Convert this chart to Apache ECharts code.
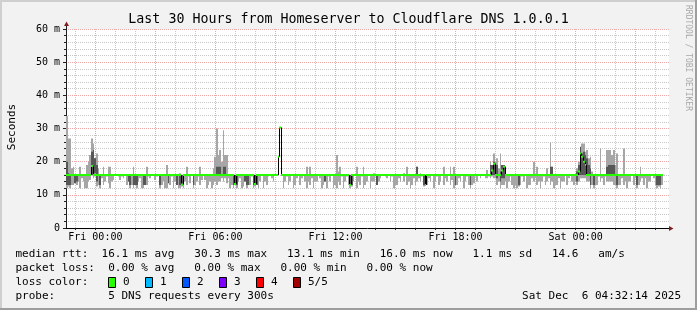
<!DOCTYPE html>
<html><head><meta charset="utf-8">
<script src="https://cdn.jsdelivr.net/npm/echarts@6/dist/echarts.min.js"></script>
<style>html,body{margin:0;padding:0;background:#f2f2f2}#c{width:697px;height:310px}</style>
</head><body><div id="c"></div>
<script>
const TITLE = 'Last 30 Hours from Homeserver to Cloudflare DNS 1.0.0.1';
const Y_NAME = 'Seconds';
const DAYS = ['Thu', 'Fri', 'Sat'];
const START_MIN = 22 * 60 + 32;   // Thu 22:32
const SPAN_MIN = 1808;            // minutes shown on the x axis
const SLOT_MIN = 5;               // minutes per probe step
const X_TICK_LABELS = ['Fri 00:00', 'Fri 06:00', 'Fri 12:00', 'Fri 18:00', 'Sat 00:00'];
const Y_MAX = 60, Y_STEP = 10;

// top of the smoke (ms), one value per 5-minute step
const SMOKE_HI = [
  33.8,27,27,18,18.5,16,16,16,18.5,16,16,16,19,20,22,27,25.5,21,22.5,18,
  16,16,18.5,16,16,18.5,18.5,16,16,16,16,16,16,16,16,16,16,16,16,16,
  18.5,16,16,16,16,16,16,16,18.5,16,16,16,16,16,16,16,16,16,16,16,
  19,16,16,16,16,16,16,16,16.5,16,16,16,18.5,16,16,16,16,16,16,16,
  18.5,16,16,16,16,16,16,16,18,21.5,30,22,23.5,20,29.5,22,22,16,16,16,
  16,16,16,16,16,16,16,16,16,16,16,16,16,16,16,16,16,16,16,16,
  16,16,16,16,16,16,null,null,null,null,16,16,16,16,16,16,16,16,16,16,
  16,16,16,16,18.5,16,18.5,16,16,16,16,16,16,16,16,16,16,16,16,16,
  16,16,22,17,18.5,16,16,16,16,16,16,16,16,16,18.5,16,16,16,18.5,16,
  16,16,16,16,16.5,16,16,16,16,16,16,16,16,16,16,16,16,16,16,16,
  16,16,16.5,16,18.5,16,16,16,16,16,18.5,16,16.5,16,16,16,16,16,16,16,
  16,16,16,16,16,16,18.5,16,16,16,18.5,16,18.5,16,16,16,16,16,16,16,
  16,16,16,16,16,16,16,16,16,16,16,16,17.5,16,20,18.5,22.5,20,21,18,
  22.5,19,19,17,16,16,16,16,16,16,16,16,16,16,16,16,16,16,16,16,
  20,16,18.5,16,16,16,16,16,18,16,25.8,18.5,16,16,16,16,16,16,16,16,
  16,16,16,16,16,16,18,20,24,25.5,25.5,23,23.5,21,21.5,17,16,16,16,16,
  24,16,16,16,23.5,23.5,23.5,22,23.5,19,22.5,16,16,16,24,16,16,16,16,16,
  16,16,16,16,18.5,16,16,16,16,16,16,16,16,16,16,16,16,16,null,null
];
// bottom of the smoke (ms)
const SMOKE_LO = [
  12,12.5,12,13,13,15.5,13,14,12,15,14,12,12,14,14.5,16,15,15.5,12.5,13,
  12,15,13,14,15.5,13.5,12,14,14.5,16,16,15.5,14.5,15.5,15,16,13,14,12,13,
  12,13,12,14,15,12,12,13,13,15.5,15,16,16,14.5,15.5,16,12,13,14,12,
  12,14,13,15.5,12,14,13,12,12,12.5,12,14,13,15.5,13.5,16,12,13,14,15.5,
  13,14.5,16,14.5,12,13,14,12,13,14,13,14,14,15,14,15,13.5,15,12,13,
  12,13,12,14,15,12,12.5,14,12,13,13,15.5,12,12.5,13,12,14,16,12,14,
  13,15.5,16,15,14,16,null,null,null,null,12,14,15.5,13,14,16,12,13,15,16,
  13,15,16,14,12,14,13,15,12,14,14,16,15,12,13,14,12,15.5,14,16,
  12,13,12,14,13,15.5,12,14,15.5,13,12,12.5,14,16,12,14,13,15.5,12,13,
  14,16,12,14,14,15.5,13,14,15,16,16,15.5,15,16,14,15.5,12,13,13,15,
  14,16,14,15.5,13,14,12,13,15,13,14,15,14,15.5,12.5,13,13,15,14,16,
  12,14,15.5,13,14,16,13,15,14,16,13,14.5,12,13,13,15,14,16,12,14,
  15.5,13,12,13,13.5,15.5,14,16,15,16,16,15,15,15.5,15,15.5,15,15,13,14,
  12,13,13,14,12,14,15.5,13,12,13,12,12.5,13,15.5,14,16,12,13,13,15,
  14,15,13,14,12,14,15.5,13,14,15,13,14,12,13,13,15,12,14,14,16,
  13,15,16,14,13,14,13,14,15,15,15,15,14,14,12,13,12,13,13,15.5,
  14,15,13,15.5,14,14,14,14,13,13,12,13,13,15,13,14,12,14,14,16,
  13,15,12,13,14,15,13,15,12,14,14,16,15,13,12,12.5,12,13,null,null
];
// darker core of the smoke: step index, bottom, top
const DARK_SLOT = [0,1,2,5,6,15,16,17,18,20,37,38,40,41,42,46,47,56,61,66,68,69,76,90,91,92,94,95,100,101,102,107,108,109,112,113,114,155,170,171,186,210,214,215,233,242,254,255,256,257,258,260,261,262,271,290,291,306,307,308,309,310,311,312,313,314,316,324,325,326,327,328,330,342,354,355,356];
const DARK_LO   = [13,13,13,13.5,14,16,16.5,16.5,14,13,14,13,13,13,13,13,13,13,13.5,13,13,13,13,16,16,16,16,16,13,13,13,14,13,13,13,13,13,14,13,13,13,16,13,13,13,13,16,16,16,16,15,14,15,15,13,16,16,14,16,16,16,16,16,16,16,13,13,16,16,16,16,16,13,13,13,13,13];
const DARK_HI   = [20,16.5,16,16,16,23,23.5,21,19,16,16,16,16,16,16,16,16,16,16,16,16,16,16,18.5,18.5,18.5,18.5,18.5,16,16,16,16,16,16,16,16,16,16,16,16,16,18.5,16,16,16,16,19,19,20,19,19,17,19,19,16,18.5,18.5,17,19,24.5,22.5,23,22,21,19,18,16,18.5,19,19,19,19,16,16,16,16,16];
// median rtt (ms) per 5-minute step
const MEDIAN = [
  16,16,16,16,16,16,16,16,16,16,16,16,16,16,16,18.7,16,16,16,16,
  16,16,16,16,16,16,16,16,16,16,16,16,16,16,16,16,16,16,16,16,
  16,16,16,16,16,16,16,16,16,16,16,16,16,16,16,16,16,16,16,16,
  16,16,16,16,16,16,16,16,16,13.1,16,16,16,16,16,16,16,16,16,16,
  16,16,16,16,16,16,16,16,16,16,16,16,16,16,16,16,16,16,16,16,
  16,13.3,16,16,16,16,16,16,16,16,16,16,16,13.3,16,16,16,16,16,16,
  16,16,16,16,16,16,16,21.5,30.3,16,16,16,16,16,16,16,16,16,16,16,
  16,16,16,16,16,16,16,16,16,16,16,16,16,16,16,16,16,16,16,16,
  16,16,16,16,16,16,16,16,16,16,13,16,16,16,16,16,16,16,16,16,
  16,16,16,16,16,16,16,16,16,16,16,16,16,16,16,16,16,16,16,16,
  16,16,16,16,16,16,16,16,16,16,16,16,16,16,16,13,16,16,16,16,
  16,16,16,16,16,16,16,16,16,16,16,16,16,16,16,16,16,16,16,16,
  16,16,16,16,16,16,16,16,16,16,16,16,16,16,16,17.3,19.4,16,16,16,
  16,17.3,18.5,16,16,16,16,16,16,16,16,16,16,16,16,16,16,16,16,16,
  16,16,16,16,16,16,16,16,16,16,16,16,16,16,16,16,16,16,16,16,
  16,16,16,16,16,16,16,17,22.5,21.5,20,19,16,16,16,16,16,16,16,16,
  16,16,16,16,16,16,16,16,16,16,16,16,16,16,16,16,16,16,16,16,
  16,16,16,16,16,16,16,16,16,16,16,16,16,16,16,16,16,16,null,null
];
const LEGEND_LINES = [
  'median rtt:  16.1 ms avg   30.3 ms max   13.1 ms min   16.0 ms now   1.1 ms sd   14.6   am/s',
  'packet loss:  0.00 % avg   0.00 % max   0.00 % min   0.00 % now',
  'loss color:',
  'probe:        5 DNS requests every 300s'
];
const LOSS_LABELS = ['0', '1', '2', '3', '4', '5/5'];
const LOSS_COLORS = ['#26ff00', '#00b8ff', '#0059ff', '#7e00ff', '#ff0000', '#a10000'];
const DATE_TEXT = 'Sat Dec  6 04:32:14 2025';
const SIDE_TEXT = 'RRDTOOL / TOBI OETIKER';

const MONO = '"DejaVu Sans Mono", monospace';
const pad = n => (n < 10 ? '0' : '') + n;
const CATEGORIES = [];
for (let m = 0; m <= SPAN_MIN; m++) {
  const t = START_MIN + m;
  CATEGORIES.push(DAYS[Math.floor(t / 1440)] + ' ' + pad(Math.floor((t % 1440) / 60)) + ':' + pad(t % 60));
}
const isHour = v => v.endsWith(':00');
const hourOf = v => parseInt(v.slice(4, 6), 10);

const smokeData = [];
SMOKE_HI.forEach((hi, i) => { if (hi != null && hi > SMOKE_LO[i]) smokeData.push([i * SLOT_MIN, SMOKE_LO[i], hi]); });
const darkData = DARK_SLOT.map((s, k) => [s * SLOT_MIN, DARK_LO[k], DARK_HI[k]]);
const medData = [];
MEDIAN.forEach((m, i) => {
  if (m == null) return;
  const p = i > 0 && MEDIAN[i - 1] != null ? MEDIAN[i - 1] : m;
  medData.push([i * SLOT_MIN, m, p]);
});

function rectRender(fill) {
  return function (params, api) {
    const s = api.value(0), lo = api.value(1), hi = api.value(2);
    const a = api.coord([s, lo]), b = api.coord([s + SLOT_MIN, hi]);
    const x0 = Math.round(a[0]), x1 = Math.max(Math.round(b[0]), x0 + 1);
    return { type: 'rect', shape: { x: x0, y: b[1], width: x1 - x0, height: a[1] - b[1] }, style: { fill: fill } };
  };
}

const GRID_MINOR = 'rgba(143,143,143,0.5)';
const GRID_MAJOR = 'rgba(222,79,79,0.5)';

const chart = echarts.init(document.getElementById('c'), null, { renderer: 'canvas' });
chart.setOption({
  animation: false,
  backgroundColor: '#f2f2f2',
  grid: { left: 66, right: 28, top: 29, bottom: 82, show: true, backgroundColor: '#ffffff', borderWidth: 0 },
  xAxis: [{
    type: 'category', data: CATEGORIES, boundaryGap: false, position: 'bottom',
    axisLine: { show: true, lineStyle: { color: '#000', width: 1 } },
    axisTick: { show: true, length: 2, interval: (i, v) => isHour(v), lineStyle: { color: '#1f1f1f' } },
    axisLabel: { interval: (i, v) => X_TICK_LABELS.includes(v), fontFamily: MONO, fontSize: 10, color: '#000', margin: 4 },
    splitLine: { show: true, interval: (i, v) => isHour(v) && hourOf(v) % 3 !== 0, lineStyle: { color: GRID_MINOR, type: [1, 1], width: 1 } }
  }, {
    type: 'category', data: CATEGORIES, boundaryGap: false, position: 'bottom',
    axisLine: { show: false }, axisTick: { show: false }, axisLabel: { show: false },
    splitLine: { show: true, interval: (i, v) => isHour(v) && hourOf(v) % 3 === 0, lineStyle: { color: GRID_MAJOR, type: [1, 1], width: 1 } }
  }],
  yAxis: {
    type: 'value', min: 0, max: Y_MAX, interval: Y_STEP,
    axisLine: { show: true, lineStyle: { color: '#1f1f1f', width: 1 } },
    axisTick: { show: true, length: 3, lineStyle: { color: '#1f1f1f' } },
    minorTick: { show: true, splitNumber: 5, length: 2, lineStyle: { color: '#1f1f1f' } },
    axisLabel: { formatter: v => (v === 0 ? '0' : v + ' m'), fontFamily: MONO, fontSize: 10, color: '#000', margin: 6 },
    splitLine: { show: true, lineStyle: { color: GRID_MAJOR, type: [1, 1], width: 1 } },
    minorSplitLine: { show: true, lineStyle: { color: GRID_MINOR, type: [1, 1], width: 1 } }
  },
  series: [
    { type: 'custom', name: 'smoke', silent: true, xAxisIndex: 0, yAxisIndex: 0, data: smokeData, renderItem: rectRender('#a6a6a6') },
    { type: 'custom', name: 'dark', silent: true, xAxisIndex: 0, yAxisIndex: 0, data: darkData, renderItem: rectRender('#575757') },
    { type: 'custom', name: 'median', silent: true, xAxisIndex: 0, yAxisIndex: 0, data: medData,
      renderItem: function (params, api) {
        const s = api.value(0), m = api.value(1), p = api.value(2);
        const a = api.coord([s, m]), b = api.coord([s + SLOT_MIN, m]);
        const x0 = Math.round(a[0]), x1 = Math.round(b[0]);
        const children = [];
        if (p !== m) {
          const q = api.coord([s, p]);
          children.push({ type: 'line', shape: { x1: x0 + 0.5, y1: q[1], x2: x0 + 0.5, y2: a[1] }, style: { stroke: '#000', lineWidth: 1 } });
        }
        children.push({ type: 'line', shape: { x1: x0, y1: a[1], x2: Math.max(x1, x0 + 1), y2: a[1] }, style: { stroke: LOSS_COLORS[0], lineWidth: 2 } });
        return { type: 'group', children: children };
      } }
  ]
});

const pO = chart.convertToPixel({ xAxisIndex: 0, yAxisIndex: 0 }, [0, 0]);
const pTR = chart.convertToPixel({ xAxisIndex: 0, yAxisIndex: 0 }, [SPAN_MIN, Y_MAX]);
const ox = Math.round(pO[0]) + 0.5, oy = Math.round(pO[1]) + 0.5, topY = pTR[1], rightX = pTR[0];
const W = 697, H = 310;
const g = [];
g.push({ type: 'rect', shape: { x: 0, y: 0, width: W, height: 2 }, style: { fill: '#cfcfcf' }, silent: true });
g.push({ type: 'rect', shape: { x: 0, y: 0, width: 2, height: H }, style: { fill: '#cfcfcf' }, silent: true });
g.push({ type: 'rect', shape: { x: W - 2, y: 0, width: 2, height: H }, style: { fill: '#9e9e9e' }, silent: true });
g.push({ type: 'rect', shape: { x: 0, y: H - 2, width: W, height: 2 }, style: { fill: '#9e9e9e' }, silent: true });
g.push({ type: 'line', shape: { x1: ox, y1: topY, x2: ox, y2: topY - 4 }, style: { stroke: '#1f1f1f', lineWidth: 1 }, silent: true });
g.push({ type: 'polygon', shape: { points: [[ox - 2.5, topY - 3], [ox + 2.5, topY - 3], [ox, topY - 7.5]] }, style: { fill: '#801f1f' }, silent: true, z: 10 });
g.push({ type: 'polygon', shape: { points: [[rightX, oy - 2.5], [rightX, oy + 2.5], [rightX + 4.5, oy]] }, style: { fill: '#801f1f' }, silent: true, z: 10 });
g.push({ type: 'text', x: W / 2, y: 19.5, silent: true, style: { text: TITLE, font: '13.3px ' + MONO, fill: '#000', align: 'center', verticalAlign: 'middle' } });
g.push({ type: 'text', x: 12, y: 127, rotation: Math.PI / 2, silent: true, style: { text: Y_NAME, font: '11px ' + MONO, fill: '#000', align: 'center', verticalAlign: 'middle' } });
g.push({ type: 'text', x: 688, y: 5, rotation: -Math.PI / 2, silent: true, style: { text: SIDE_TEXT, font: '8px ' + MONO, fill: '#a8a8a8', align: 'left', verticalAlign: 'middle' } });
const LEG_Y = [254.5, 268.5, 282.5, 296.5];
LEGEND_LINES.forEach((t, k) => {
  g.push({ type: 'text', x: 15.5, y: LEG_Y[k], silent: true, style: { text: t, font: '11px ' + MONO, fill: '#000', align: 'left', verticalAlign: 'middle' } });
});
LOSS_LABELS.forEach((t, k) => {
  const bx = 108 + 37 * k;
  g.push({ type: 'rect', shape: { x: bx + 0.5, y: LEG_Y[2] - 5, width: 7, height: 10 }, style: { fill: LOSS_COLORS[k], stroke: '#000', lineWidth: 1 }, silent: true });
  g.push({ type: 'text', x: bx + 15, y: LEG_Y[2], silent: true, style: { text: t, font: '11px ' + MONO, fill: '#000', align: 'left', verticalAlign: 'middle' } });
});
g.push({ type: 'text', x: 681, y: LEG_Y[3], silent: true, style: { text: DATE_TEXT, font: '11px ' + MONO, fill: '#000', align: 'right', verticalAlign: 'middle' } });
chart.setOption({ graphic: g });
</script>
</body></html>
